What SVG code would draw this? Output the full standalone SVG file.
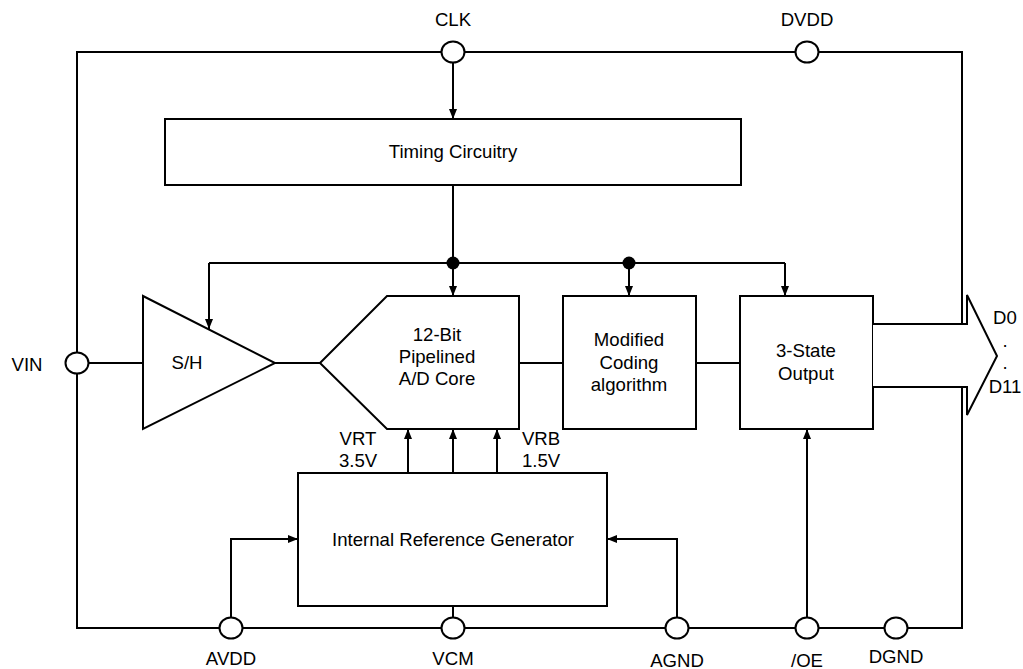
<svg xmlns="http://www.w3.org/2000/svg" width="1023" height="669" viewBox="0 0 1023 669">
<style>
.ln{fill:none;stroke:#000;stroke-width:2}
.bx{fill:#fff;stroke:#000;stroke-width:2}
.pin{fill:#fff;stroke:#000;stroke-width:2}
text{font-family:"Liberation Sans",Arial,sans-serif;font-size:18.6px;fill:#000;text-anchor:middle}
</style>
<defs>
<marker id="ah" markerUnits="userSpaceOnUse" markerWidth="10" markerHeight="8" refX="10" refY="4" orient="auto">
<path d="M0,0 L10,4 L0,8 Z" fill="#000"/>
</marker>
</defs>
<rect width="1023" height="669" fill="#fff"/>
<g id="connectors">
<rect id="border" x="77" y="52" width="885" height="576" class="ln"/>
<path class="ln" d="M453,52 V119" marker-end="url(#ah)"/>
<path class="ln" d="M453,185 V263"/>
<path class="ln" d="M209,263 H785"/>
<path class="ln" d="M209,263 V329" marker-end="url(#ah)"/>
<path class="ln" d="M453,263 V296" marker-end="url(#ah)"/>
<path class="ln" d="M629,263 V296" marker-end="url(#ah)"/>
<path class="ln" d="M785,263 V296" marker-end="url(#ah)"/>
<path class="ln" d="M77,363 H143"/>
<path class="ln" d="M275,363 H320"/>
<path class="ln" d="M519,363 H563"/>
<path class="ln" d="M696,363 H740"/>
<path class="ln" d="M408,473 V429" marker-end="url(#ah)"/>
<path class="ln" d="M453,473 V429" marker-end="url(#ah)"/>
<path class="ln" d="M497,473 V429" marker-end="url(#ah)"/>
<path class="ln" d="M231,628 V539 H298" marker-end="url(#ah)"/>
<path class="ln" d="M677,628 V539 H607" marker-end="url(#ah)"/>
<path class="ln" d="M453,606 V628"/>
<path class="ln" d="M807,628 V429" marker-end="url(#ah)"/>
<circle cx="453" cy="263" r="6.5" fill="#000"/>
<circle cx="629" cy="263" r="6.5" fill="#000"/>
</g>
<g id="timing">
<rect x="165" y="119" width="576" height="66" class="bx"/>
<text x="453" y="158">Timing Circuitry</text>
</g>
<g id="sh">
<polygon points="143,296 275,363 143,429" class="bx"/>
<text x="187" y="369">S/H</text>
</g>
<g id="adcore">
<polygon points="320,363 387,296 519,296 519,429 387,429" class="bx"/>
<text x="437" y="341">12-Bit</text>
<text x="437" y="363">Pipelined</text>
<text x="437" y="385">A/D Core</text>
</g>
<g id="coding">
<rect x="563" y="296" width="133" height="133" class="bx"/>
<text x="629" y="346">Modified</text>
<text x="629" y="368.5">Coding</text>
<text x="629" y="391">algorithm</text>
</g>
<g id="output">
<rect x="740" y="296" width="133" height="133" class="bx"/>
<text x="806" y="357">3-State</text>
<text x="806" y="380">Output</text>
</g>
<g id="bus">
<polygon points="873,324 967,324 967,295 997,356 967,415 967,387 873,387" fill="#fff" stroke="none"/>
<polyline points="873,324 967,324 967,295 997,356 967,415 967,387 873,387" class="ln"/>
<text x="1005" y="324">D0</text>
<text x="1005" y="347">.</text>
<text x="1005" y="369">.</text>
<text x="1005" y="393">D11</text>
</g>
<g id="refgen">
<rect x="298" y="473" width="309" height="133" class="bx"/>
<text x="453" y="546">Internal Reference Generator</text>
<text x="358" y="445">VRT</text>
<text x="358" y="467">3.5V</text>
<text x="541" y="445">VRB</text>
<text x="541" y="467">1.5V</text>
</g>
<g id="pin-clk">
<ellipse cx="453" cy="52" rx="11.5" ry="10.5" class="pin"/>
<text x="453" y="26">CLK</text>
</g>
<g id="pin-dvdd">
<ellipse cx="807" cy="52" rx="11.5" ry="10.5" class="pin"/>
<text x="807" y="26">DVDD</text>
</g>
<g id="pin-vin">
<ellipse cx="77" cy="363" rx="11.5" ry="10.5" class="pin"/>
<text x="27" y="371">VIN</text>
</g>
<g id="pin-avdd">
<ellipse cx="231" cy="628" rx="11.5" ry="10.5" class="pin"/>
<text x="231" y="665">AVDD</text>
</g>
<g id="pin-vcm">
<ellipse cx="453" cy="628" rx="11.5" ry="10.5" class="pin"/>
<text x="453" y="665">VCM</text>
</g>
<g id="pin-agnd">
<ellipse cx="677" cy="628" rx="11.5" ry="10.5" class="pin"/>
<text x="677" y="667">AGND</text>
</g>
<g id="pin-oe">
<ellipse cx="807" cy="628" rx="11.5" ry="10.5" class="pin"/>
<text x="807" y="667">/OE</text>
</g>
<g id="pin-dgnd">
<ellipse cx="896" cy="628" rx="11.5" ry="10.5" class="pin"/>
<text x="896" y="663">DGND</text>
</g>
</svg>
